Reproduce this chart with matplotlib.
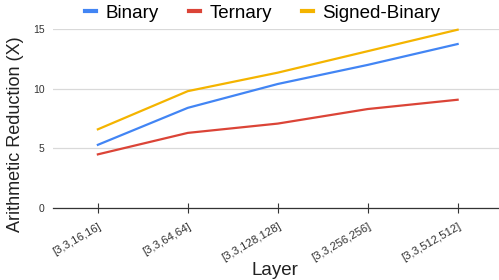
import numpy as np
import matplotlib.pyplot as plt

plt.rcParams['font.family'] = ['Liberation Sans', 'DejaVu Sans']

layers = ['[3,3,16,16]', '[3,3,64,64]', '[3,3,128,128]', '[3,3,256,256]', '[3,3,512,512]']
binary = [5.3, 8.4, 10.4, 12.0, 13.75]
ternary = [4.5, 6.3, 7.08, 8.3, 9.08]
signed_binary = [6.6, 9.8, 11.35, 13.15, 14.95]

x = np.arange(len(layers))

fig = plt.figure(figsize=(4.99, 2.8), dpi=100)
ax = fig.add_axes([0.106, 0.257, 0.894, 0.639])

ax.plot(x, binary, color='#4285F4', lw=1.6, label='Binary', clip_on=False)
ax.plot(x, ternary, color='#DB4437', lw=1.6, label='Ternary', clip_on=False)
ax.plot(x, signed_binary, color='#F4B400', lw=1.6, label='Signed-Binary', clip_on=False)

ax.set_xlim(-0.5, 4.46)
ax.set_ylim(0, 15)
ax.set_yticks([0, 5, 10, 15])
ax.set_xticks(x)
ax.set_xticklabels(layers, rotation=30, ha='right', rotation_mode='anchor', fontsize=8.2, color='#333333')
ax.tick_params(axis='y', length=0, labelsize=7.5, labelcolor='#333333', pad=6)
ax.tick_params(axis='x', direction='inout', length=7, width=0.8, color='#333333', pad=6)
ax.grid(axis='y', color='#d9d9d9', lw=0.9)
ax.set_axisbelow(True)
for s in ['top', 'right', 'left']:
    ax.spines[s].set_visible(False)
ax.spines['bottom'].set_color('#333333')
ax.spines['bottom'].set_linewidth(0.9)

ax.set_ylabel('Arithmetic Reduction (X)', fontsize=13, color='#222222')
ax.yaxis.set_label_coords(-0.065, 0.41)
ax.set_xlabel('Layer', fontsize=13.5, color='#222222')
ax.xaxis.set_label_coords(0.498, -0.30)

ax.legend(loc='lower center', bbox_to_anchor=(0.47, 1.0), ncol=3, frameon=False,
          fontsize=13.5, handlelength=0.6, handletextpad=0.5, columnspacing=1.6,
          borderaxespad=0)
for line in ax.get_legend().get_lines():
    line.set_linewidth(3)

plt.savefig('out.png', dpi=100)
